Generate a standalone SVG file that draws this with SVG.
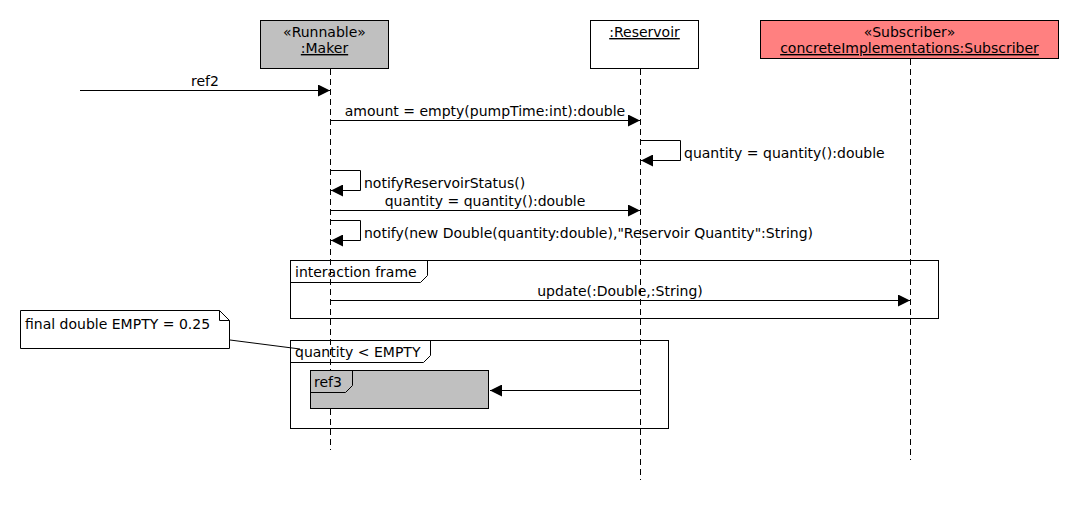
<svg xmlns="http://www.w3.org/2000/svg" width="1080" height="520" viewBox="0 0 1080 520">
<style>
text{font-family:"DejaVu Sans","Liberation Sans",sans-serif;font-size:14px;fill:#000}
.box{stroke:#000;stroke-width:1}
.life{stroke:#000;stroke-width:1;stroke-dasharray:6,4;fill:none}
.msg{stroke:#000;stroke-width:1;fill:none}
.frame{stroke:#000;stroke-width:1;fill:none}
.u{text-decoration:underline}
</style>
<defs>
<marker id="arr" markerWidth="12" markerHeight="12" viewBox="0 0 12 12" refX="12" refY="6" orient="auto" markerUnits="userSpaceOnUse">
<path d="M0,0 L12,6 L0,12 Z" fill="#000"/>
</marker>
</defs>
<rect width="1080" height="520" fill="#fff"/>
<g id="maker">
<rect class="box" x="260.5" y="20.5" width="128" height="48" fill="#c0c0c0"/>
<text x="324.5" y="37" text-anchor="middle">«Runnable»</text>
<text x="324.5" y="53" text-anchor="middle" class="u">:Maker</text>
<line class="life" x1="330.5" y1="69" x2="330.5" y2="450"/>
</g>
<g id="reservoir">
<rect class="box" x="590.5" y="20.5" width="108" height="48" fill="#fff"/>
<text x="644.5" y="37" text-anchor="middle" class="u">:Reservoir</text>
<line class="life" x1="640.5" y1="69" x2="640.5" y2="480"/>
</g>
<g id="subscriber">
<rect class="box" x="760.5" y="20.5" width="298" height="38" fill="#ff8080"/>
<text x="909.5" y="37" text-anchor="middle">«Subscriber»</text>
<text x="909.5" y="53" text-anchor="middle" class="u">concreteImplementations:Subscriber</text>
<line class="life" x1="910.5" y1="59" x2="910.5" y2="460"/>
</g>
<g id="frame1">
<rect class="frame" x="290.5" y="260.5" width="648" height="58"/>
<path class="frame" d="M290.5,282.5 L420.5,282.5 L427.5,275.5 L427.5,260.5"/>
<text x="295" y="277">interaction frame</text>
</g>
<g id="frame2">
<rect class="frame" x="290.5" y="340.5" width="378" height="88"/>
<path class="frame" d="M290.5,362.5 L423.5,362.5 L430.5,355.5 L430.5,340.5"/>
<text x="295" y="357">quantity &lt; EMPTY</text>
</g>
<g id="ref3">
<rect class="box" x="310.5" y="370.5" width="178" height="38" fill="#c0c0c0"/>
<path class="frame" d="M310.5,392.5 L345.5,392.5 L352.5,385.5 L352.5,370.5"/>
<text x="314" y="387">ref3</text>
</g>
<g id="note">
<path class="box" d="M20.5,310.5 L219.5,310.5 L229.5,320.5 L229.5,348.5 L20.5,348.5 Z" fill="#fff"/>
<path class="frame" d="M219.5,310.5 L219.5,320.5 L229.5,320.5"/>
<text x="25" y="329">final double EMPTY = 0.25</text>
</g>
<g id="connectors">
<line class="msg" x1="230" y1="340" x2="300" y2="349"/>
<line class="msg" x1="80" y1="90.5" x2="330" y2="90.5" marker-end="url(#arr)"/>
<text x="205" y="86" text-anchor="middle">ref2</text>
<line class="msg" x1="330" y1="120.5" x2="640" y2="120.5" marker-end="url(#arr)"/>
<text x="485" y="116" text-anchor="middle">amount = empty(pumpTime:int):double</text>
<path class="msg" d="M640,140.5 L680.5,140.5 L680.5,160.5 L641,160.5" marker-end="url(#arr)"/>
<text x="684" y="158">quantity = quantity():double</text>
<path class="msg" d="M330,170.5 L360.5,170.5 L360.5,190.5 L331,190.5" marker-end="url(#arr)"/>
<text x="364" y="188">notifyReservoirStatus()</text>
<line class="msg" x1="330" y1="210.5" x2="640" y2="210.5" marker-end="url(#arr)"/>
<text x="485" y="206" text-anchor="middle">quantity = quantity():double</text>
<path class="msg" d="M330,220.5 L360.5,220.5 L360.5,240.5 L331,240.5" marker-end="url(#arr)"/>
<text x="364" y="238">notify(new Double(quantity:double),"Reservoir Quantity":String)</text>
<line class="msg" x1="330" y1="300.5" x2="910" y2="300.5" marker-end="url(#arr)"/>
<text x="620" y="296" text-anchor="middle">update(:Double,:String)</text>
<line class="msg" x1="640" y1="390.5" x2="490" y2="390.5" marker-end="url(#arr)"/>
</g>
</svg>
